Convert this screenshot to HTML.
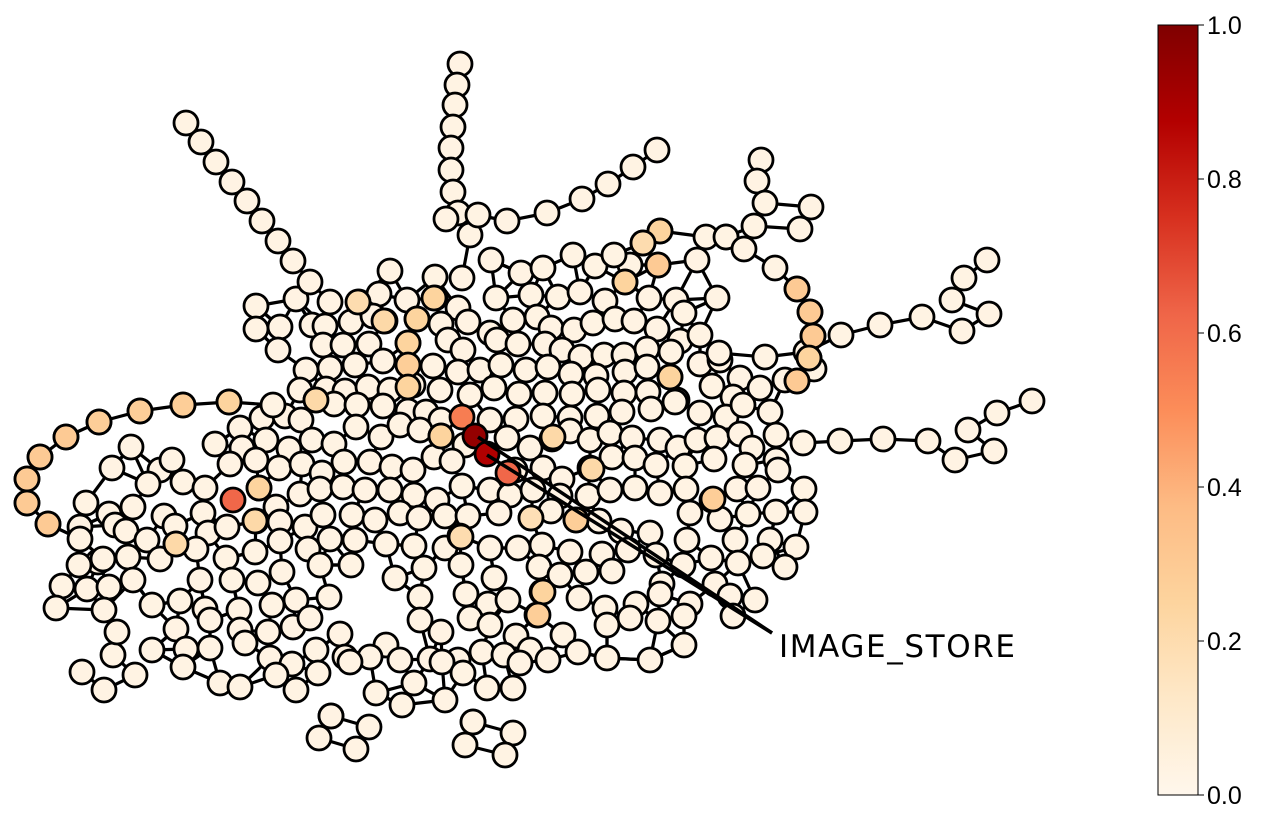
<!DOCTYPE html>
<html><head><meta charset="utf-8">
<style>
body{margin:0;background:#fff;width:1285px;height:817px;overflow:hidden;font-family:"Liberation Sans",sans-serif;}
svg{position:absolute;left:0;top:0}
</style></head>
<body>
<svg id="chart" width="1285" height="817" xmlns="http://www.w3.org/2000/svg">
<defs>
<linearGradient id="orrd" x1="0" y1="1" x2="0" y2="0">
<stop offset="0" stop-color="#fff7ec"/><stop offset="0.125" stop-color="#fee8c8"/><stop offset="0.25" stop-color="#fdd49e"/><stop offset="0.375" stop-color="#fdbb84"/><stop offset="0.5" stop-color="#fc8d59"/><stop offset="0.625" stop-color="#ef6548"/><stop offset="0.75" stop-color="#d7301f"/><stop offset="0.875" stop-color="#b30000"/><stop offset="1" stop-color="#7f0000"/>
</linearGradient>
</defs>
<g id="edges"></g>
<g id="nodes"></g>
<g id="annot"></g>
<g id="cbar">
<rect x="1158" y="25" width="40" height="770" fill="url(#orrd)" stroke="#000" stroke-width="1"/>
</g>
</svg>
<script>
const chains=[
[[460,64],[457,85],[455,105],[453,127],[451,148],[451,170],[453,192],[458,213],[470,235],[462,278]],
[[186,123],[201,142],[216,162],[232,182],[247,201],[262,221],[278,241],[293,261],[310,282],[330,302]],
[[657,150],[633,167],[608,184],[582,199],[547,213],[507,221],[478,215],[446,219]],
[[761,160],[757,181],[765,203],[811,207],[800,229],[754,226],[726,237],[706,237],[660,231],[643,243],[614,255]],
[[726,237],[744,249],[775,268],[797,289],[810,312],[813,336],[809,358],[797,381]],
[[987,260],[964,278],[952,300],[989,314],[962,331],[922,317],[880,325],[841,335],[806,352],[765,357],[719,353]],
[[1032,401],[997,413],[968,430],[994,451],[955,460],[928,441],[883,439],[840,441],[803,443],[776,435]],
[[273,405],[229,402],[183,405],[140,411],[99,422],[66,437],[40,457],[27,479],[27,503],[48,524],[80,539],[103,559]],
[[82,672],[104,690],[135,675],[113,655],[117,632]],
[[331,716],[369,727],[356,749],[319,738],[331,716]],
[[473,722],[513,733],[505,755],[465,745],[473,722]]
];
const nodes=[[390,271],[435,277],[491,260],[521,273],[543,268],[595,266],[573,255],[630,265],[658,265],[697,260],[625,282],[496,298],[531,295],[558,297],[580,292],[605,301],[649,298],[676,300],[717,298],[684,313],[256,306],[296,299],[359,302],[379,294],[407,300],[435,298],[458,308],
[256,329],[280,327],[312,325],[325,326],[351,322],[373,316],[385,321],[417,319],[441,324],[468,322],[490,333],[513,320],[537,317],[551,328],[574,330],[593,323],[615,319],[634,321],[657,329],[680,341],[700,335],[278,350],[323,345],[343,345],[369,344],[408,343],[448,340],[463,350],[497,340],[518,344],[545,344],[562,350],[581,357],[604,355],[624,355],[647,349],[671,352],
[306,370],[330,368],[355,365],[383,361],[408,365],[433,366],[458,372],[480,370],[501,365],[526,370],[548,367],[571,374],[596,376],[625,372],[647,367],[670,377],[700,364],[720,360],[740,378],[785,380],[814,369],[300,390],[326,389],[345,391],[368,387],[390,390],[413,385],[440,390],[470,395],[494,388],[519,394],[545,393],[572,394],[598,390],[624,393],[648,392],[677,400],[712,386],[733,397],[760,388],
[262,418],[285,416],[301,420],[316,400],[334,404],[357,405],[383,406],[408,411],[426,412],[441,420],[490,420],[516,419],[543,416],[570,418],[597,416],[622,412],[651,409],[675,402],[700,413],[726,417],[743,405],[770,412],[240,428],[215,444],[242,448],[266,440],[289,449],[312,440],[334,444],[356,427],[381,437],[400,425],[420,430],[441,436],[465,445],[507,438],[530,448],[552,439],[570,431],[590,440],[610,433],[632,438],[660,440],[678,448],[697,440],[717,438],[740,434],[752,448],
[131,447],[160,470],[172,460],[112,468],[148,484],[183,482],[205,488],[230,464],[256,460],[279,468],[302,464],[322,473],[344,462],[370,462],[392,467],[413,470],[434,457],[452,461],[515,470],[543,468],[562,479],[590,468],[612,457],[635,458],[656,465],[685,466],[714,459],[745,465],[776,460],
[86,503],[109,514],[133,507],[164,516],[203,513],[259,488],[276,507],[300,494],[320,489],[343,487],[365,490],[390,490],[414,495],[437,500],[462,486],[490,490],[510,495],[533,490],[560,496],[588,496],[610,490],[635,488],[660,493],[686,489],[712,500],[737,489],[758,488],[778,470],[804,489],[805,512],[776,512],[748,514],[720,519],[690,513],
[80,527],[115,525],[126,531],[147,540],[175,526],[208,533],[227,527],[256,521],[280,522],[305,527],[323,515],[352,515],[375,520],[400,513],[419,518],[445,516],[468,516],[499,513],[531,518],[551,511],[576,520],[599,521],[621,531],[650,533],[687,540],[735,540],[770,540],[796,547],[128,557],[98,562],[79,565],[160,559],[176,544],[196,549],[226,558],[255,552],[280,541],[308,549],[330,539],[355,540],[386,544],[414,546],[445,548],[460,536],[490,548],[518,548],[542,545],[570,552],[602,554],[628,550],[656,555],[683,565],[711,558],[738,563],[763,556],
[62,586],[87,589],[109,587],[133,580],[200,580],[232,580],[258,583],[282,572],[320,565],[351,565],[395,578],[424,568],[461,565],[494,578],[539,567],[560,575],[586,572],[612,571],[662,584],[715,584],[730,596],[755,600],[785,567],[56,608],[104,610],[152,605],[180,601],[205,609],[239,610],[272,605],[296,600],[329,597],[420,597],[466,594],[488,604],[508,600],[542,592],[579,598],[605,608],[636,604],[660,594],[690,604],[733,616],
[176,629],[210,620],[240,630],[268,632],[293,627],[310,618],[340,634],[386,645],[420,620],[441,632],[470,618],[490,625],[516,636],[537,615],[563,635],[607,625],[630,618],[658,621],[684,616],[152,650],[186,649],[210,648],[245,643],[270,658],[292,664],[316,650],[345,657],[370,657],[400,660],[430,659],[458,660],[482,652],[504,655],[530,650],[548,660],[578,652],[607,658],[650,660],[684,645],[183,667],[220,683],[240,687],[276,675],[296,690],[318,673],[350,662],[376,693],[402,705],[414,683],[442,662],[445,700],[463,673],[487,688],[513,688],[520,663]];
const hot=[[434,298,0.25],[417,319,0.25],[384,321,0.22],[358,302,0.2],[408,343,0.25],[408,365,0.28],[408,387,0.25],[316,400,0.22],[441,436,0.25],[553,437,0.22],[592,469,0.22],[576,520,0.28],[543,592,0.25],[538,615,0.28],[461,537,0.2],[531,518,0.18],[176,544,0.22],[255,521,0.22],[259,488,0.25],[625,282,0.25],[658,265,0.3],[660,231,0.25],[643,243,0.2],[797,289,0.3],[810,312,0.3],[813,336,0.3],[809,358,0.25],[797,381,0.3],[713,499,0.28],[670,377,0.25],[27,479,0.3],[40,457,0.3],[66,437,0.3],[99,422,0.28],[140,411,0.28],[183,405,0.28],[229,402,0.25],[27,503,0.3],[48,524,0.3],[462,417,0.55],[508,473,0.62],[233,500,0.62],[475,436,0.95],[487,454,0.88]];
const ticks=[0,0.2,0.4,0.6,0.8,1.0];
const NS='http://www.w3.org/2000/svg';
const stops=[[255,247,236],[254,232,200],[253,212,158],[253,187,132],[252,141,89],[239,101,72],[215,48,31],[179,0,0],[127,0,0]];
function cmap(v){const t=Math.max(0,Math.min(1,v))*8;const i=Math.min(7,Math.floor(t));const f=t-i;const a=stops[i],b=stops[i+1];return 'rgb('+a.map((c,k)=>Math.round(c+(b[k]-c)*f)).join(',')+')';}
const eg=document.getElementById('edges'),ng=document.getElementById('nodes'),ag=document.getElementById('annot'),cb=document.getElementById('cbar');
function line(x1,y1,x2,y2,w){const l=document.createElementNS(NS,'line');l.setAttribute('x1',x1);l.setAttribute('y1',y1);l.setAttribute('x2',x2);l.setAttribute('y2',y2);l.setAttribute('stroke','#000');l.setAttribute('stroke-width',w);


return l;}
const all=nodes.slice();
chains.forEach(c=>{for(let i=0;i<c.length-1;i++)eg.appendChild(line(c[i][0],c[i][1],c[i+1][0],c[i+1][1],3.2));c.forEach(p=>all.push(p));});
nodes.forEach((p,i)=>{const d=nodes.map((q,j)=>[Math.hypot(q[0]-p[0],q[1]-p[1]),j]).filter(e=>e[1]!==i).sort((a,b)=>a[0]-b[0]);for(let k=0;k<3;k++){if(d[k][0]<52)eg.appendChild(line(p[0],p[1],nodes[d[k][1]][0],nodes[d[k][1]][1],3.2));}});
function node(x,y,v){const c=document.createElementNS(NS,'circle');c.setAttribute('cx',x);c.setAttribute('cy',y);c.setAttribute('r',12);c.setAttribute('fill',cmap(v));c.setAttribute('stroke','#000');c.setAttribute('stroke-width',2.8);


ng.appendChild(c);}
all.forEach(p=>node(p[0],p[1],0.03));
hot.forEach(h=>node(h[0],h[1],h[2]));
ag.appendChild(line(478,437,772,633,3.5));
ag.appendChild(line(487,455,772,633,3.5));
const lab=document.createElementNS(NS,'text');lab.setAttribute('x',779);lab.setAttribute('y',657);lab.setAttribute('font-size',31);lab.setAttribute('font-family','DejaVu Sans, sans-serif');lab.setAttribute('textLength',236);lab.textContent='IMAGE_STORE';


ag.appendChild(lab);
ticks.forEach(t=>{const y=795-t*770;const tk=line(1198,y,1204,y,1);cb.appendChild(tk);const tx=document.createElementNS(NS,'text');tx.setAttribute('x',1207);tx.setAttribute('y',y+9);tx.setAttribute('font-size',25);tx.setAttribute('font-family','Liberation Sans, sans-serif');tx.textContent=t.toFixed(1);


cb.appendChild(tx);});
</script>
</body></html>
